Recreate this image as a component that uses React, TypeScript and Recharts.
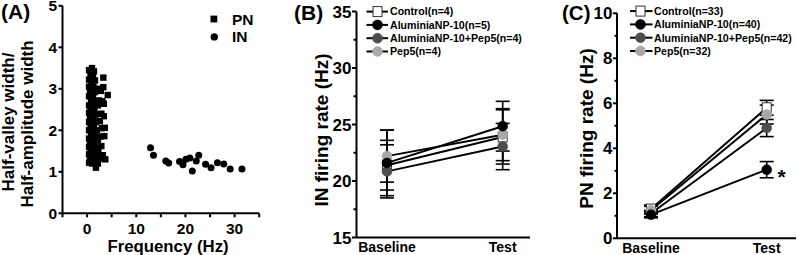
import React from 'react';
import { ScatterChart, Scatter, LineChart, Line, XAxis, YAxis, ErrorBar, Label, LabelList } from 'recharts';

const FONT = '"Liberation Sans", Arial, Helvetica, sans-serif';

// ---------- Panel A data ----------
const pnPoints: [number, number][] = [
  [0.4, 3.45], [1.0, 3.5], [1.4, 3.42], [0.7, 3.35], [1.2, 3.3], [0.4, 3.22], [1.6, 3.2], [3.3, 3.27],
  [0.9, 3.12], [0.4, 3.05], [1.3, 3.05], [2.1, 3.0], [3.3, 3.04], [0.6, 2.95], [1.0, 2.9], [1.6, 2.92], [4.2, 2.85],
  [0.4, 2.82], [1.2, 2.78], [0.8, 2.7], [1.7, 2.7], [3.1, 2.7], [3.4, 2.64], [0.4, 2.6], [1.1, 2.58], [2.2, 2.6],
  [0.7, 2.5], [1.5, 2.48], [0.4, 2.42], [1.0, 2.4], [1.8, 2.38], [3.4, 2.34], [2.9, 2.4], [0.6, 2.3], [1.3, 2.28],
  [0.4, 2.2], [1.0, 2.18], [1.8, 2.2], [2.6, 2.22], [0.7, 2.1], [1.4, 2.08], [3.6, 2.06], [3.0, 2.05], [0.4, 2.0],
  [1.1, 1.98], [2.0, 2.0], [0.8, 1.9], [1.6, 1.9], [3.5, 1.86], [2.7, 1.85], [0.4, 1.8], [1.2, 1.78], [2.2, 1.76],
  [0.6, 1.7], [1.5, 1.68], [0.4, 1.6], [1.0, 1.6], [1.8, 1.58], [2.9, 1.62], [0.7, 1.5], [1.4, 1.5], [2.3, 1.48],
  [0.4, 1.42], [1.1, 1.4], [1.9, 1.38], [0.6, 1.32], [1.4, 1.3], [3.7, 1.3], [2.6, 1.32], [0.4, 1.22], [1.0, 1.2],
  [2.2, 1.2], [1.6, 1.24], [1.8, 1.1], [3.2, 1.4], [2.4, 2.72], [2.8, 2.95],
];
const inPoints: [number, number][] = [
  [12.9, 1.58], [13.5, 1.4], [16.0, 1.26], [16.6, 1.21], [18.8, 1.25], [19.5, 1.17], [20.1, 1.3], [20.9, 1.33],
  [21.4, 1.02], [22.2, 1.26], [22.7, 1.4], [24.1, 1.18], [25.2, 1.1], [26.5, 1.22], [27.8, 1.19], [29.1, 1.07], [31.5, 1.07],
];
const aXTicks = [-5, 0, 5, 10, 15, 20, 25, 30, 35];
const aXLabelled = [0, 10, 20, 30];
const aYTicks = [0, 1, 2, 3, 4, 5];
const aLegend = ['PN', 'IN'];

// ---------- Panel B / C data ----------
const categories = ['Baseline', 'Test'];
const groupKeys = ['control', 'np', 'npPep', 'pep'];
const groupNamesB = ['Control(n=4)', 'AluminiaNP-10(n=5)', 'AluminiaNP-10+Pep5(n=4)', 'Pep5(n=4)'];
const groupNamesC = ['Control(n=33)', 'AluminiaNP-10(n=40)', 'AluminiaNP-10+Pep5(n=42)', 'Pep5(n=32)'];

const controlB = [21.4, 23.9];
const controlBErr = [2.2, 2.4];
const npB = [21.6, 24.85];
const npBErr = [2.9, 2.2];
const npPepB = [20.85, 23.05];
const npPepBErr = [2.35, 2.05];
const pepB = [22.2, 24.1];
const pepBErr = [2.3, 2.3];

const controlC = [1.3, 5.8];
const controlCErr = [0.18, 0.33];
const npC = [1.05, 3.05];
const npCErr = [0.14, 0.36];
const npPepC = [1.1, 4.9];
const npPepCErr = [0.14, 0.38];
const pepC = [1.25, 5.5];
const pepCErr = [0.17, 0.42];

const bYTicks = [15, 17.5, 20, 22.5, 25, 27.5, 30, 32.5, 35];
const cYTicks = [0, 1, 2, 3, 4, 5, 6, 7, 8, 9, 10];

const dataB = categories.map((c, i) => ({
  cat: c,
  control: controlB[i], controlErr: controlBErr[i],
  np: npB[i], npErr: npBErr[i],
  npPep: npPepB[i], npPepErr: npPepBErr[i],
  pep: pepB[i], pepErr: pepBErr[i],
}));
const dataC = categories.map((c, i) => ({
  cat: c,
  control: controlC[i], controlErr: controlCErr[i],
  np: npC[i], npErr: npCErr[i],
  npPep: npPepC[i], npPepErr: npPepCErr[i],
  pep: pepC[i], pepErr: pepCErr[i],
}));

const groupFill: Record<string, string> = { control: '#ffffff', np: '#000000', npPep: '#4d4d4d', pep: '#a8a8a8' };
const drawOrder = ['control', 'npPep', 'pep', 'np'];

const txt = { fontFamily: FONT, fontWeight: 700, fill: '#000' } as const;

// ---------- helpers ----------
function Marker({ k, cx, cy }: { k: string; cx: number; cy: number }) {
  if (k === 'control') {
    return <rect x={cx - 4.5} y={cy - 5} width={9} height={10} fill="#fff" stroke="#333" strokeWidth={1} />;
  }
  return <circle cx={cx} cy={cy} r={5} fill={groupFill[k]} stroke={groupFill[k]} strokeWidth={0.5} />;
}

const makeYTick = (isMajor: (v: number) => boolean, fontSize: number, majorLen: number, minorLen: number, gap: number) =>
  (props: any) => {
    const { x, y, payload } = props;
    const major = isMajor(payload.value);
    const len = major ? majorLen : minorLen;
    return (
      <g>
        <line x1={x} x2={x - len} y1={y} y2={y} stroke="#000" strokeWidth={2} />
        {major && (
          <text x={x - majorLen - gap} y={y} dy="0.36em" textAnchor="end" fontSize={fontSize} {...txt}>
            {payload.value}
          </text>
        )}
      </g>
    );
  };

const yTickA = makeYTick(() => true, 15.5, 4, 4, 1.5);
const yTickB = makeYTick((v) => v % 5 === 0, 17, 4.5, 3, 0.5);
const yTickC = makeYTick((v) => v % 2 === 0, 17, 4, 2.5, 0.5);

const xTickA = (props: any) => {
  const { x, y, payload } = props;
  return (
    <g>
      <line x1={x} x2={x} y1={y} y2={y + 4} stroke="#000" strokeWidth={2} />
      {aXLabelled.includes(payload.value) && (
        <text x={x} y={y + 9.5} dy="0.71em" textAnchor="middle" fontSize={15.5} {...txt}>
          {payload.value}
        </text>
      )}
    </g>
  );
};

const xTickBC = (props: any) => {
  const { x, y, payload } = props;
  return (
    <text x={x} y={y + 5} dy="0.71em" textAnchor="middle" fontSize={14} {...txt}>
      {payload.value}
    </text>
  );
};

const squareShape = (p: any) => <rect x={p.cx - 3.2} y={p.cy - 3.2} width={6.4} height={6.4} fill="#000" />;
const circleShape = (p: any) => <circle cx={p.cx} cy={p.cy} r={3.5} fill="#000" />;

const pnData = pnPoints.map(([x, y]) => ({ x, y }));
const inData = inPoints.map(([x, y]) => ({ x, y }));

const axisLine = { stroke: '#000', strokeWidth: 2 };

function LinePanel({ data, ySpec }: { data: any[]; ySpec: any }) {
  return (
    <LineChart width={ySpec.w} height={255} data={data} margin={{ top: ySpec.top, right: ySpec.right, left: 0, bottom: 0 }}>
      <XAxis
        dataKey="cat"
        type="category"
        scale="point"
        padding={{ left: ySpec.padL, right: ySpec.padR }}
        axisLine={axisLine}
        tickLine={false}
        tickSize={0}
        tickMargin={0}
        height={ySpec.xh}
        tick={xTickBC}
        interval={0}
      />
      <YAxis
        type="number"
        domain={ySpec.domain}
        ticks={ySpec.ticks}
        interval={0}
        width={ySpec.yw}
        axisLine={axisLine}
        tickLine={false}
        tickSize={0}
        tickMargin={0}
        tick={ySpec.tick}
      >
        <Label
          content={() => (
            <text
              x={ySpec.lx}
              y={ySpec.ly}
              transform={`rotate(-90 ${ySpec.lx} ${ySpec.ly})`}
              textAnchor="middle"
              dominantBaseline="central"
              fontSize={19}
              {...txt}
            >
              {ySpec.label}
            </text>
          )}
        />
      </YAxis>
      {drawOrder.map((k) => (
        <Line
          key={k}
          dataKey={k}
          stroke="#000"
          strokeWidth={2}
          isAnimationActive={false}
          dot={(p: any) => <Marker key={`${k}-${p.index}`} k={k} cx={p.cx} cy={p.cy} />}
          activeDot={false}
        >
          <ErrorBar dataKey={`${k}Err`} width={7} strokeWidth={1.6} stroke="#000" direction="y" />
          {ySpec.star && k === 'np' && (
            <LabelList
              dataKey={k}
              content={(p: any) =>
                p.index === 1 ? (
                  <text x={p.x + 15} y={p.y + 14} textAnchor="middle" fontSize={21} {...txt}>
                    *
                  </text>
                ) : null
              }
            />
          )}
        </Line>
      ))}
    </LineChart>
  );
}

function LegendBox({ names, lineX1, lineX2, markX, textX, y0 }: any) {
  return (
    <g>
      {groupKeys.map((k, i) => {
        const y = y0 + i * 13.3;
        return (
          <g key={k}>
            <line x1={lineX1} x2={lineX2} y1={y} y2={y} stroke="#000" strokeWidth={2} />
            <Marker k={k} cx={markX} cy={y} />
            <text x={textX} y={y} dy="0.36em" fontSize={10.6} {...txt}>
              {names[i]}
            </text>
          </g>
        );
      })}
    </g>
  );
}

export default function App() {
  return (
    <div style={{ position: 'absolute', left: 0, top: 0, width: 797, height: 255, background: '#fff', overflow: 'hidden' }}>
      {/* Panel A */}
      <div style={{ position: 'absolute', left: 0, top: 0 }}>
        <ScatterChart width={270} height={255} margin={{ top: 5.8, right: 10.8, left: 0, bottom: 0 }}>
          <XAxis
            type="number"
            dataKey="x"
            domain={[-5, 35]}
            ticks={aXTicks}
            interval={0}
            height={41.7}
            axisLine={axisLine}
            tickLine={false}
            tickSize={0}
            tickMargin={0}
            tick={xTickA}
          >
            <Label
              content={() => (
                <text x={168} y={246} textAnchor="middle" dominantBaseline="central" fontSize={16.8} {...txt}>
                  Frequency (Hz)
                </text>
              )}
            />
          </XAxis>
          <YAxis
            type="number"
            dataKey="y"
            domain={[0, 5]}
            ticks={aYTicks}
            interval={0}
            width={62.5}
            axisLine={axisLine}
            tickLine={false}
            tickSize={0}
            tickMargin={0}
            tick={yTickA}
          >
            <Label
              content={() => (
                <g>
                  <text x={8} y={122} transform="rotate(-90 8 122)" textAnchor="middle" dominantBaseline="central" fontSize={17} {...txt}>
                    Half-valley width/
                  </text>
                  <text x={27} y={124} transform="rotate(-90 27 124)" textAnchor="middle" dominantBaseline="central" fontSize={17} {...txt}>
                    Half-amplitude width
                  </text>
                </g>
              )}
            />
          </YAxis>
          <Scatter name="PN" data={pnData} shape={squareShape} isAnimationActive={false} />
          <Scatter name="IN" data={inData} shape={circleShape} isAnimationActive={false} />
        </ScatterChart>
      </div>

      {/* Panel B */}
      <div style={{ position: 'absolute', left: 270, top: 0 }}>
        <LinePanel
          data={dataB}
          ySpec={{
            w: 270, top: 11.5, right: 10, yw: 86.5, xh: 17.5, padL: 30.5, padR: 27.3,
            domain: [15, 35], ticks: bYTicks, tick: yTickB, label: 'IN firing rate (Hz)', lx: 51, ly: 130, star: false,
          }}
        />
      </div>

      {/* Panel C */}
      <div style={{ position: 'absolute', left: 540, top: 0 }}>
        <LinePanel
          data={dataC}
          ySpec={{
            w: 257, top: 13.3, right: 1, yw: 77, xh: 16.7, padL: 34, padR: 29.3,
            domain: [0, 10], ticks: cYTicks, tick: yTickC, label: 'PN firing rate (Hz)', lx: 46.5, ly: 128.5, star: true,
          }}
        />
      </div>

      {/* Overlay: panel letters and legends */}
      <svg width={797} height={255} style={{ position: 'absolute', left: 0, top: 0, pointerEvents: 'none' }}>
        <text x={1} y={18.5} fontSize={21} {...txt}>(A)</text>
        <text x={294} y={19.5} fontSize={21} {...txt}>(B)</text>
        <text x={562} y={19.5} fontSize={20.5} {...txt}>(C)</text>

        <rect x={210.5} y={15.6} width={6.8} height={6.8} fill="#000" />
        <text x={232} y={19} dy="0.36em" fontSize={15.5} {...txt}>{aLegend[0]}</text>
        <circle cx={214.3} cy={36.9} r={3.7} fill="#000" />
        <text x={232} y={36.9} dy="0.36em" fontSize={15.5} {...txt}>{aLegend[1]}</text>

        <LegendBox names={groupNamesB} lineX1={366.5} lineX2={388} markX={377.5} textX={390} y0={11.6} />
        <LegendBox names={groupNamesC} lineX1={630} lineX2={652.5} markX={640.5} textX={654} y0={11.1} />
      </svg>
    </div>
  );
}
